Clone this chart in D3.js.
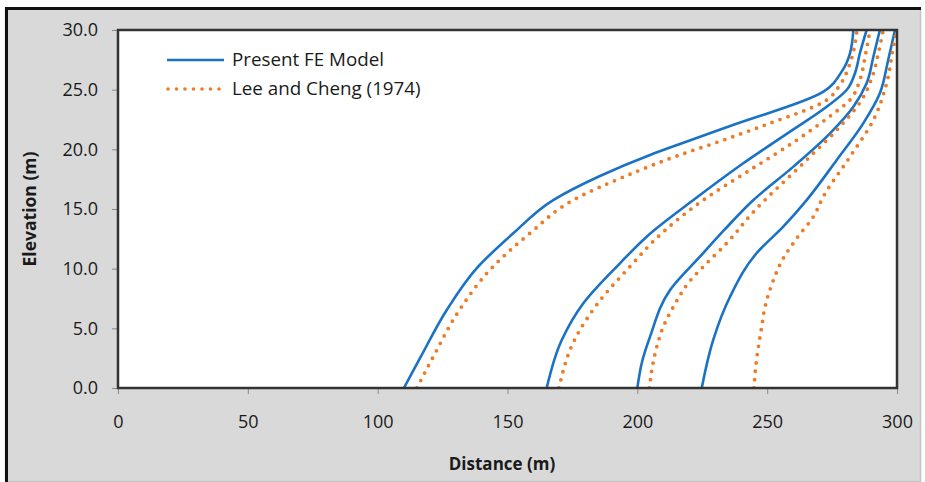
<!DOCTYPE html>
<html>
<head>
<meta charset="utf-8">
<script src="https://cdn.jsdelivr.net/npm/d3@7"></script>
<style>
  html, body { margin: 0; padding: 0; background: #fff; overflow: hidden; }
  svg { display: block; }
  text { font-family: "Open Sans", "Noto Sans", sans-serif; fill: #1a1a1a; }
</style>
</head>
<body>
<svg width="925" height="482"></svg>
<script>
// [distance (m), elevation (m)]
const presentFE1 = [[110.1,0],[116.6,2.62],[126.6,6.54],[138.1,10.03],[152.2,12.96],[167.6,15.75],[185.6,17.77],[204.9,19.53],[216.4,20.45],[236.8,22.04],[271.5,24.81],[278.7,26.51],[281.9,28.05],[283.2,30]];
const presentFE2 = [[165.1,0],[170.9,4.02],[179.2,7.10],[193.3,10.45],[203.6,12.68],[221.6,15.75],[240.8,18.83],[258.8,21.48],[272.9,23.57],[280.6,24.97],[283.8,26.37],[285.7,28.05],[288.3,30]];
const presentFE3 = [[200.0,0],[201.8,2.18],[204.9,4.30],[212.6,8.21],[224.1,11.0],[233.3,13.2],[244.7,15.75],[260.1,18.55],[274.2,21.34],[283.2,23.57],[288.3,25.53],[290.9,27.76],[293.4,30]];
const presentFE4 = [[224.8,0],[229.2,4.02],[235.7,7.65],[245.9,11.29],[256.2,13.52],[265.2,15.75],[276.8,19.11],[287.0,22.18],[293.4,24.70],[296.6,27.49],[299.2,30]];

const leeCheng1 = [[115.1,0],[121.4,2.62],[131.5,6.54],[143.8,10.03],[158.6,12.96],[175.3,15.75],[195.6,17.77],[216.3,19.53],[228.8,20.45],[249.2,22.04],[272.9,24.13],[278.0,25.39],[281.9,27.21],[284.6,30]];
const leeCheng2 = [[169.8,0],[175.8,4.02],[184.8,7.10],[198.3,10.45],[206.0,12.26],[225.4,15.75],[243.4,18.27],[261.4,20.78],[274.8,22.88],[281.9,24.14],[285.7,25.81],[287.7,27.76],[289.6,30]];
const leeCheng3 = [[204.6,0],[207.5,3.46],[210.0,5.14],[213.9,6.81],[220.0,8.9],[225.4,10.17],[234.4,12.13],[244.2,14.64],[265.2,19.11],[278.0,21.90],[286.4,24.14],[290.9,26.37],[292.8,28.05],[294.7,30]];
const leeCheng4 = [[244.9,0],[245.9,2.35],[247.9,5.14],[249.2,6.81],[251.7,8.63],[256.2,10.87],[261.4,12.55],[267.8,14.36],[271.6,16.03],[281.9,19.38],[290.9,22.46],[296.0,25.53],[298.6,28.60],[299.9,30]];

const xTicks = [0, 50, 100, 150, 200, 250, 300];
const yTicks = [0, 5, 10, 15, 20, 25, 30];
const seriesNames = ["Present FE Model", "Lee and Cheng (1974)"];

const blue = "#1a72c4";
const orange = "#ee7a24";

const svg = d3.select("svg");
const margin = { top: 30, right: 28, bottom: 94, left: 118 };
const width = +svg.attr("width");
const height = +svg.attr("height");
const innerWidth = width - margin.left - margin.right;
const innerHeight = height - margin.top - margin.bottom;

// chart frame
svg.append("rect")
  .attr("x", 5.5).attr("y", 8.5)
  .attr("width", 915).attr("height", 473)
  .attr("fill", "#d9d9d9")
  .attr("stroke", "#c4c4c4").attr("stroke-width", 1.5);
svg.append("path")
  .attr("d", "M6.5,482V8.5H921")
  .attr("fill", "none").attr("stroke", "#111").attr("stroke-width", 3);

const xScale = d3.scaleLinear().domain([0, 300]).range([0, innerWidth]);
const yScale = d3.scaleLinear().domain([0, 30]).range([innerHeight, 0]);

const g = svg.append("g")
  .attr("transform", `translate(${margin.left}, ${margin.top})`);

g.append("rect")
  .attr("width", innerWidth).attr("height", innerHeight)
  .attr("fill", "#fff");

const xAxisG = g.append("g")
  .attr("transform", `translate(0, ${innerHeight})`)
  .call(d3.axisBottom(xScale).tickValues(xTicks).tickSize(6).tickPadding(21).tickFormat(d3.format("d")));
const yAxisG = g.append("g")
  .call(d3.axisLeft(yScale).tickValues(yTicks).tickSize(6).tickPadding(14).tickFormat(d3.format(".1f")));

[xAxisG, yAxisG].forEach(a => {
  a.select(".domain").remove();
  a.selectAll(".tick line").attr("stroke", "#8a8a8a");
  a.selectAll(".tick text")
    .style("font-family", '"Open Sans", sans-serif')
    .style("font-size", "18px")
    .attr("fill", "#1a1a1a");
});

const line = d3.line()
  .x(d => xScale(d[0]))
  .y(d => yScale(d[1]))
  .curve(d3.curveMonotoneY);

g.append("clipPath").attr("id", "plot-clip")
  .append("rect").attr("width", innerWidth).attr("height", innerHeight);

const curves = g.append("g").attr("clip-path", "url(#plot-clip)");

[presentFE1, presentFE2, presentFE3, presentFE4].forEach(c => {
  curves.append("path")
    .datum(c)
    .attr("d", line)
    .attr("fill", "none")
    .attr("stroke", blue)
    .attr("stroke-width", 2.6);
});

[leeCheng1, leeCheng2, leeCheng3, leeCheng4].forEach(c => {
  curves.append("path")
    .datum(c)
    .attr("d", line)
    .attr("fill", "none")
    .attr("stroke", orange)
    .attr("stroke-width", 3.8)
    .attr("stroke-linecap", "round")
    .attr("stroke-dasharray", "0 8.4");
});

// plot border
g.append("rect")
  .attr("width", innerWidth).attr("height", innerHeight)
  .attr("fill", "none")
  .attr("stroke", "#333").attr("stroke-width", 2.5);

// legend
const legend = g.append("g").attr("transform", "translate(49, 30)");
legend.append("line")
  .attr("x1", 0).attr("x2", 57).attr("y1", 0).attr("y2", 0)
  .attr("stroke", blue).attr("stroke-width", 2.6);
legend.append("line")
  .attr("x1", 1).attr("x2", 53).attr("y1", 29).attr("y2", 29)
  .attr("stroke", orange).attr("stroke-width", 3.6)
  .attr("stroke-linecap", "round").attr("stroke-dasharray", "0 8.5");
legend.selectAll("text.leg").data(seriesNames)
  .enter().append("text")
  .attr("class", "leg")
  .attr("x", 65)
  .attr("y", (d, i) => 6 + i * 29)
  .style("font-size", "18.8px")
  .text(d => d);

// axis titles
svg.append("text")
  .attr("x", 502).attr("y", 470)
  .attr("text-anchor", "middle")
  .style("font-size", "17px").style("font-weight", "bold")
  .text("Distance (m)");

svg.append("text")
  .attr("transform", "translate(36, 209) rotate(-90)")
  .attr("text-anchor", "middle")
  .style("font-size", "17.5px").style("font-weight", "bold")
  .text("Elevation (m)");
</script>
</body>
</html>
